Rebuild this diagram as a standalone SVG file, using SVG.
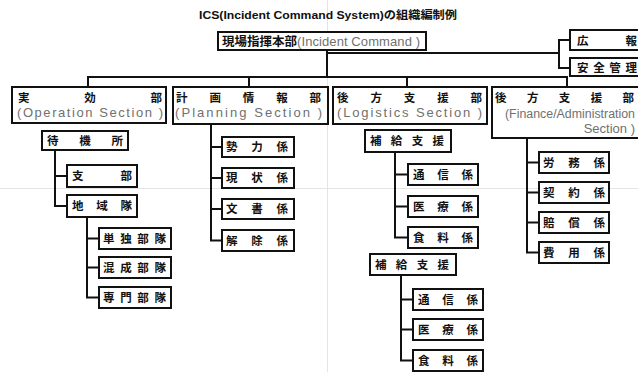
<svg xmlns="http://www.w3.org/2000/svg" width="638" height="372" viewBox="0 0 638 372">
<style>
.bx{fill:#fff;stroke:#111;stroke-width:2}
.jp{font-family:"Noto Sans CJK JP","Liberation Sans",sans-serif;font-weight:bold;font-size:11.5px;fill:#111}
.en{font-family:"Liberation Sans","Noto Sans CJK JP",sans-serif;font-size:13px;fill:#707070}
.ln{fill:none;stroke:#111;stroke-width:2}
.guide{stroke:#e4e4e4;stroke-width:1}
</style>
<rect width="638" height="372" fill="#fff"/>
<g id="guides">
<line class="guide" x1="0" y1="188.5" x2="638" y2="188.5"/>
<line class="guide" x1="327.5" y1="0" x2="327.5" y2="372"/>
</g>
<text id="title" x="199" y="19" textLength="258" lengthAdjust="spacingAndGlyphs" style="font-family:'Liberation Sans','Noto Sans CJK JP',sans-serif;font-weight:bold;font-size:11px;fill:#111">ICS(Incident Command System)の組織編制例</text>
<g id="connectors">
<path class="ln" d="M327 50V77M88 87V77H567V87M249 77V87M407 77V87"/>
<path class="ln" d="M327 53H559M570 40H559V68H570"/>
<path class="ln" d="M55 150V206H67M55 176H67"/>
<path class="ln" d="M87 217V297.5H99M87 238.5H99M87 267.5H99"/>
<path class="ln" d="M211 124V240.5H222M211 147H222M211 178H222M211 209H222"/>
<path class="ln" d="M395 152V237.5H408M395 174.5H408M395 206.5H408"/>
<path class="ln" d="M401 275V360.5H413M401 299.5H413M401 329.5H413"/>
<path class="ln" d="M527 138V252.5H539M527 162.5H539M527 192.5H539M527 222.5H539"/>
</g>
<g id="hq"><rect class="bx" x="218" y="32" width="208" height="18"/>
<text x="222" y="46"><tspan class="jp" style="font-size:12.5px" textLength="75" lengthAdjust="spacingAndGlyphs">現場指揮本部</tspan><tspan class="en" style="font-size:13px" textLength="123" lengthAdjust="spacing">(Incident Command )</tspan></text></g>
<g id="pr"><rect class="bx" x="570" y="30" width="80" height="20"/><text class="jp" x="577" y="45" textLength="60" lengthAdjust="spacing">広報</text></g>
<g id="safety"><rect class="bx" x="570" y="58" width="80" height="18"/><text class="jp" x="577" y="72" textLength="60" lengthAdjust="spacing">安全管理</text></g>
<g id="ops"><rect class="bx" x="12" y="87" width="154" height="36"/>
<text class="jp" x="18" y="102" textLength="144" lengthAdjust="spacing">実効部</text>
<text class="en" x="17" y="117" textLength="146" lengthAdjust="spacing">(Operation Section )</text></g>
<g id="plan"><rect class="bx" x="173" y="87" width="155" height="37"/>
<text class="jp" x="176" y="102" textLength="145" lengthAdjust="spacing">計画情報部</text>
<text class="en" x="175" y="117" textLength="147" lengthAdjust="spacing">(Planning Section )</text></g>
<g id="log"><rect class="bx" x="333" y="87" width="154" height="37"/>
<text class="jp" x="337" y="102" textLength="145" lengthAdjust="spacing">後方支援部</text>
<text class="en" x="337" y="117" textLength="145" lengthAdjust="spacing">(Logistics Section )</text></g>
<g id="fin"><rect class="bx" x="492" y="87" width="160" height="51"/>
<text class="jp" x="495" y="102" textLength="139" lengthAdjust="spacing">後方支援部</text>
<text class="en" x="505" y="118" style="font-size:12px" textLength="130" lengthAdjust="spacingAndGlyphs">(Finance/Administration</text>
<text class="en" x="635" y="133" text-anchor="end">Section )</text></g>
<g id="standby"><rect class="bx" x="42" y="131" width="86" height="19"/><text class="jp" x="47" y="145" textLength="76" lengthAdjust="spacing">待機所</text></g>
<g id="branch"><rect class="bx" x="67" y="165" width="70" height="22"/><text class="jp" x="72" y="180" textLength="60" lengthAdjust="spacing">支部</text></g>
<g id="area"><rect class="bx" x="67" y="195" width="70" height="22"/><text class="jp" x="72" y="210" textLength="60" lengthAdjust="spacing">地域隊</text></g>
<g id="single"><rect class="bx" x="99" y="228" width="72" height="21"/><text class="jp" x="103" y="243" textLength="63" lengthAdjust="spacing">単独部隊</text></g>
<g id="mixed"><rect class="bx" x="99" y="257" width="72" height="21"/><text class="jp" x="103" y="272" textLength="63" lengthAdjust="spacing">混成部隊</text></g>
<g id="special"><rect class="bx" x="99" y="287" width="72" height="21"/><text class="jp" x="103" y="302" textLength="63" lengthAdjust="spacing">専門部隊</text></g>
<g id="force"><rect class="bx" x="222" y="137" width="72" height="20"/><text class="jp" x="226" y="151" textLength="62" lengthAdjust="spacing">勢力係</text></g>
<g id="status"><rect class="bx" x="222" y="168" width="72" height="20"/><text class="jp" x="226" y="182" textLength="62" lengthAdjust="spacing">現状係</text></g>
<g id="docs"><rect class="bx" x="222" y="199" width="72" height="20"/><text class="jp" x="226" y="213" textLength="62" lengthAdjust="spacing">文書係</text></g>
<g id="demob"><rect class="bx" x="222" y="230" width="72" height="21"/><text class="jp" x="226" y="245" textLength="62" lengthAdjust="spacing">解除係</text></g>
<g id="supply1"><rect class="bx" x="365" y="130" width="86" height="22"/><text class="jp" x="370" y="145" textLength="74" lengthAdjust="spacing">補給支援</text></g>
<g id="comm1"><rect class="bx" x="408" y="164" width="70" height="21"/><text class="jp" x="413" y="179" textLength="60" lengthAdjust="spacing">通信係</text></g>
<g id="med1"><rect class="bx" x="408" y="196" width="70" height="21"/><text class="jp" x="413" y="211" textLength="60" lengthAdjust="spacing">医療係</text></g>
<g id="food1"><rect class="bx" x="408" y="227" width="70" height="21"/><text class="jp" x="413" y="242" textLength="60" lengthAdjust="spacing">食料係</text></g>
<g id="supply2"><rect class="bx" x="370" y="254" width="86" height="21"/><text class="jp" x="375" y="269" textLength="74" lengthAdjust="spacing">補給支援</text></g>
<g id="comm2"><rect class="bx" x="413" y="289" width="70" height="21"/><text class="jp" x="418" y="304" textLength="60" lengthAdjust="spacing">通信係</text></g>
<g id="med2"><rect class="bx" x="413" y="319" width="70" height="21"/><text class="jp" x="418" y="334" textLength="60" lengthAdjust="spacing">医療係</text></g>
<g id="food2"><rect class="bx" x="413" y="350" width="70" height="21"/><text class="jp" x="418" y="365" textLength="60" lengthAdjust="spacing">食料係</text></g>
<g id="labor"><rect class="bx" x="539" y="152" width="70" height="21"/><text class="jp" x="543" y="167" textLength="62" lengthAdjust="spacing">労務係</text></g>
<g id="contract"><rect class="bx" x="539" y="182" width="70" height="21"/><text class="jp" x="543" y="197" textLength="62" lengthAdjust="spacing">契約係</text></g>
<g id="comp"><rect class="bx" x="539" y="212" width="70" height="21"/><text class="jp" x="543" y="227" textLength="62" lengthAdjust="spacing">賠償係</text></g>
<g id="cost"><rect class="bx" x="539" y="242" width="70" height="21"/><text class="jp" x="543" y="257" textLength="62" lengthAdjust="spacing">費用係</text></g>
</svg>
